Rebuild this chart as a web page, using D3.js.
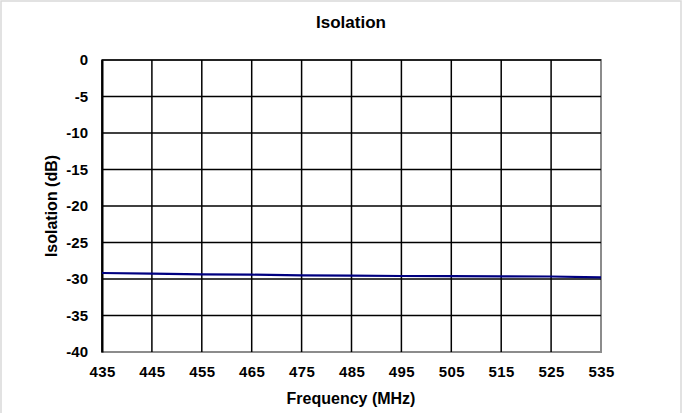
<!DOCTYPE html>
<html>
<head>
<meta charset="utf-8">
<script src="https://cdn.jsdelivr.net/npm/d3@7"></script>
<style>
  body { margin: 0; background: #fff; }
  svg { display: block; font-family: Arial, "Liberation Sans", sans-serif; }
</style>
</head>
<body>
<script>
const WIDTH = 683
const HEIGHT = 413

// fréquences (MHz) et isolation (dB)
const FREQS = [435, 445, 455, 465, 475, 485, 495, 505, 515, 525, 535]
const ISOLATION = [-29.18, -29.27, -29.36, -29.41, -29.49, -29.55, -29.59, -29.6, -29.63, -29.66, -29.77]
const X_TICKS = [435, 445, 455, 465, 475, 485, 495, 505, 515, 525, 535]
const Y_TICKS = [0, -5, -10, -15, -20, -25, -30, -35, -40]

const LEFT = 102, TOP = 60, RIGHT = 601, BOTTOM = 352
const FONT = 'Arial, "Liberation Sans", sans-serif'

const svg = d3.select('body').append('svg')
  .attr('width', WIDTH)
  .attr('height', HEIGHT)

// cadre du graphique
svg.append('rect')
  .attr('x', 1).attr('y', 1)
  .attr('width', 680).attr('height', 430)
  .attr('fill', 'none')
  .attr('stroke', '#d9d9d9')
  .attr('stroke-width', 1.5)

const x = d3.scaleLinear().domain([435, 535]).range([LEFT, RIGHT])
const y = d3.scaleLinear().domain([-40, 0]).range([BOTTOM, TOP])

// bordure de la zone de tracé
svg.append('rect')
  .attr('x', LEFT).attr('y', TOP)
  .attr('width', RIGHT - LEFT).attr('height', BOTTOM - TOP)
  .attr('fill', '#fff')
  .attr('stroke', '#8c8c8c')
  .attr('stroke-width', 2)

// grille verticale
svg.append('g')
  .selectAll('line')
  .data(X_TICKS.slice(0, -1))
  .join('line')
  .attr('x1', d => x(d)).attr('x2', d => x(d))
  .attr('y1', TOP).attr('y2', BOTTOM)
  .attr('stroke', '#000')
  .attr('stroke-width', 1.5)

// grille horizontale
svg.append('g')
  .selectAll('line')
  .data(Y_TICKS.filter(d => d > -40))
  .join('line')
  .attr('x1', LEFT).attr('x2', RIGHT)
  .attr('y1', d => y(d)).attr('y2', d => y(d))
  .attr('stroke', '#000')
  .attr('stroke-width', 1.5)

// axe Y (tiret simple, pas le signe moins unicode)
const yAxis = svg.append('g')
  .attr('transform', `translate(${LEFT},0)`)
  .call(d3.axisLeft(y).tickValues(Y_TICKS).tickFormat(d => String(d)).tickSize(0).tickPadding(14))
yAxis.select('.domain').attr('stroke', '#000').attr('stroke-width', 2)
yAxis.selectAll('text')
  .attr('font-size', 15).attr('font-weight', 'bold').attr('fill', '#000')
  .attr('font-family', FONT)

// axe X
const xAxis = svg.append('g')
  .attr('transform', `translate(0,${BOTTOM})`)
  .call(d3.axisBottom(x).tickValues(X_TICKS).tickFormat(d => String(d)).tickSize(0).tickPadding(14))
xAxis.select('.domain').remove()
xAxis.selectAll('text')
  .attr('font-size', 15).attr('font-weight', 'bold').attr('fill', '#000')
  .attr('letter-spacing', 0.4)
  .attr('font-family', FONT)

// la courbe
const line = d3.line()
  .x((d, i) => x(FREQS[i]))
  .y(d => y(d))

svg.append('path')
  .datum(ISOLATION)
  .attr('d', line)
  .attr('fill', 'none')
  .attr('stroke', '#000080')
  .attr('stroke-width', 2.2)

// titres
svg.append('text')
  .attr('x', 351).attr('y', 28)
  .attr('text-anchor', 'middle')
  .attr('font-size', 17).attr('font-weight', 'bold')
  .text('Isolation')

svg.append('text')
  .attr('x', 351).attr('y', 404)
  .attr('text-anchor', 'middle')
  .attr('font-size', 16).attr('font-weight', 'bold')
  .text('Frequency (MHz)')

svg.append('text')
  .attr('transform', 'translate(57,206) rotate(-90)')
  .attr('text-anchor', 'middle')
  .attr('font-size', 16).attr('font-weight', 'bold')
  .text('Isolation (dB)')
</script>
</body>
</html>
